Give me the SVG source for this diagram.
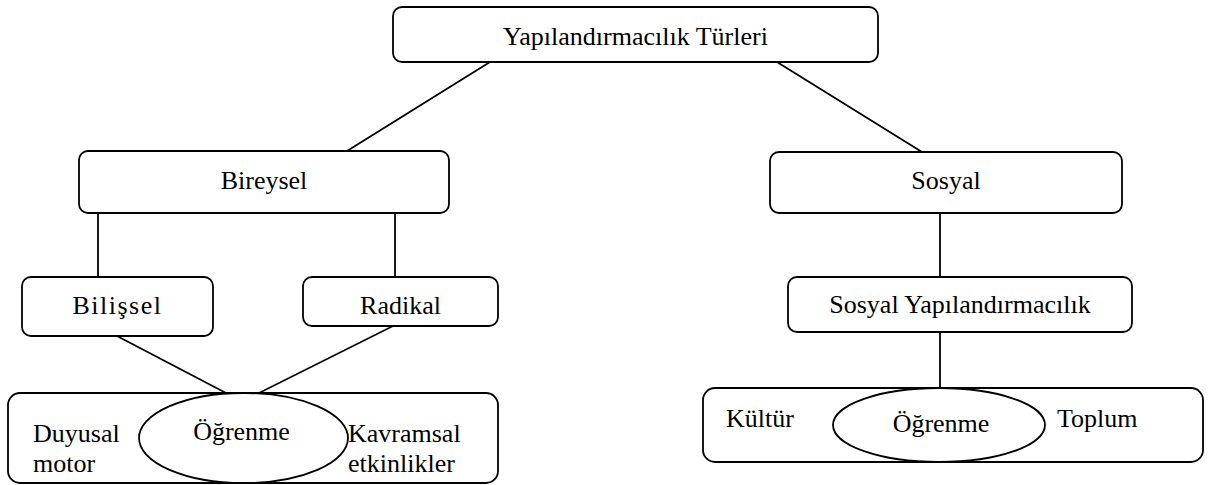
<svg xmlns="http://www.w3.org/2000/svg" width="1210" height="485" viewBox="0 0 1210 485">
<style>
.box{fill:#fff;stroke:#000;stroke-width:1.8}
.ell{fill:none;stroke:#000;stroke-width:1.8}
.ln{stroke:#000;stroke-width:1.8;fill:none}
text{font-family:"Liberation Serif","Times New Roman",serif;font-size:26px;fill:#000}
.c{text-anchor:middle}
</style>
<rect width="1210" height="485" fill="#fff"/>
<g id="connectors">
<line class="ln" x1="490" y1="62" x2="347" y2="151"/>
<line class="ln" x1="777" y1="62" x2="922" y2="152"/>
<line class="ln" x1="98" y1="213" x2="98" y2="277"/>
<line class="ln" x1="395" y1="213" x2="395" y2="277"/>
<line class="ln" x1="940" y1="213" x2="940" y2="277"/>
<line class="ln" x1="940" y1="332" x2="940" y2="388"/>
<line class="ln" x1="117" y1="336" x2="226" y2="393"/>
<line class="ln" x1="393" y1="326" x2="259" y2="393"/>
</g>
<g id="n-top">
<rect class="box" x="393" y="7" width="485" height="55" rx="9"/>
<text class="c" x="635.5" y="45">Yapılandırmacılık Türleri</text>
</g>
<g id="n-bireysel">
<rect class="box" x="79" y="151" width="370" height="62" rx="9"/>
<text class="c" x="264" y="189">Bireysel</text>
</g>
<g id="n-sosyal">
<rect class="box" x="770" y="152" width="352" height="61" rx="9"/>
<text class="c" x="946" y="189">Sosyal</text>
</g>
<g id="n-bilissel">
<rect class="box" x="22" y="277" width="191" height="59" rx="9"/>
<text class="c" x="117.5" y="314" letter-spacing="1.5">Bilişsel</text>
</g>
<g id="n-radikal">
<rect class="box" x="303" y="277" width="195" height="49" rx="9"/>
<text class="c" x="400.5" y="314">Radikal</text>
</g>
<g id="n-sosyal-yap">
<rect class="box" x="788" y="277" width="344" height="55" rx="9"/>
<text class="c" x="960" y="313">Sosyal Yapılandırmacılık</text>
</g>
<g id="n-bottom-left">
<rect class="box" x="8" y="393" width="490" height="90" rx="12"/>
<ellipse class="ell" cx="243.5" cy="438" rx="104.5" ry="45"/>
<text x="33" y="442">Duyusal</text>
<text x="33" y="472">motor</text>
<text class="c" x="241.5" y="440">Öğrenme</text>
<text x="348" y="442">Kavramsal</text>
<text x="348" y="472">etkinlikler</text>
</g>
<g id="n-bottom-right">
<rect class="box" x="703" y="388" width="500" height="74" rx="12"/>
<ellipse class="ell" cx="939" cy="425" rx="106" ry="37"/>
<text x="726" y="427">Kültür</text>
<text class="c" x="941" y="432">Öğrenme</text>
<text x="1057" y="427">Toplum</text>
</g>
</svg>
